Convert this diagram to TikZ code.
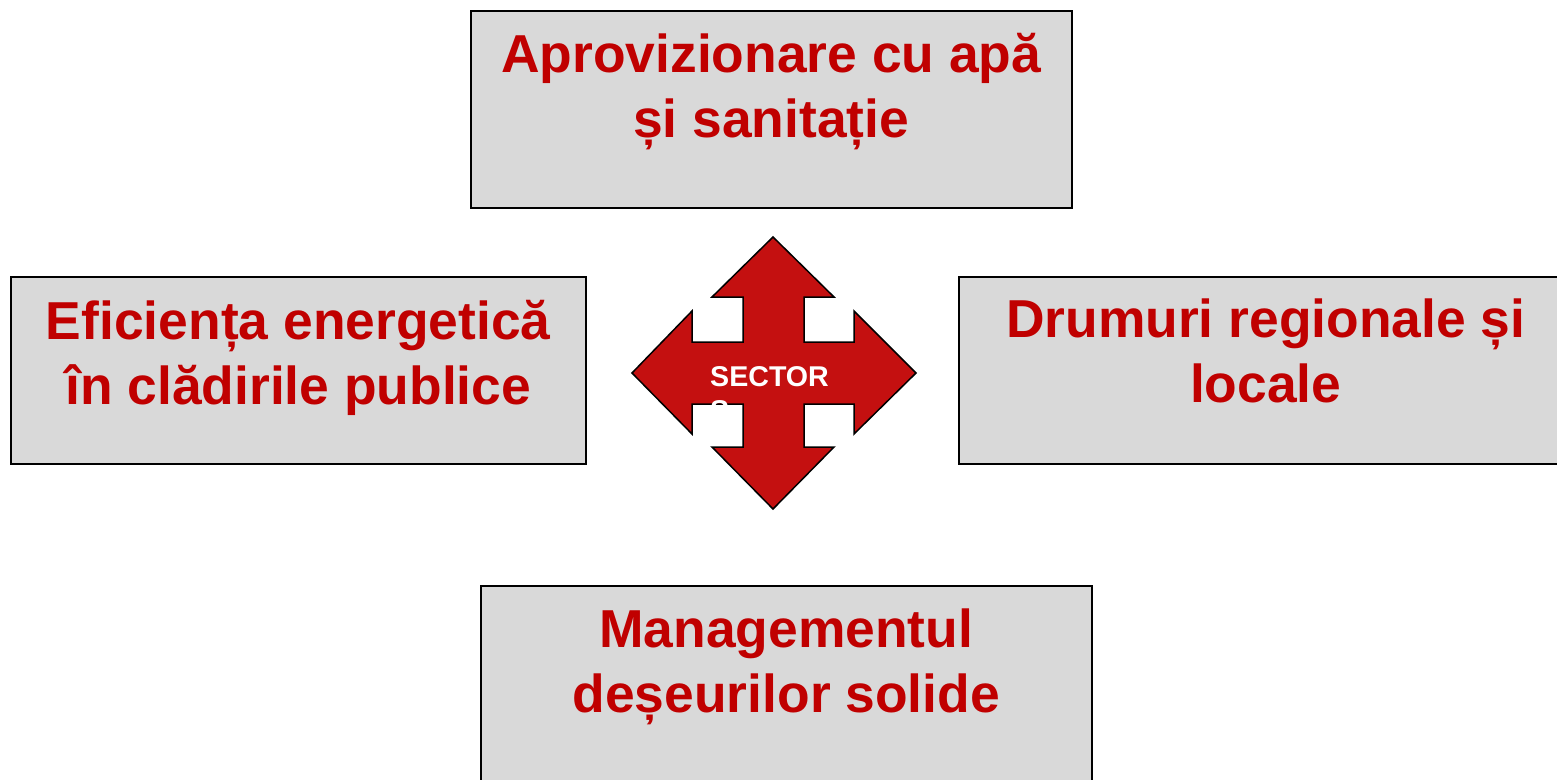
\documentclass[tikz,border=0pt]{standalone}
\usepackage{fontspec}
\setmainfont{Liberation Sans}
\definecolor{txtred}{HTML}{C00000}
\definecolor{arrred}{HTML}{C41010}
\definecolor{boxgray}{HTML}{D9D9D9}
\begin{document}
\begin{tikzpicture}[x=1pt,y=-1pt,
  box/.style={draw=black, line width=1.5pt, fill=boxgray, rectangle, inner sep=0pt, anchor=north west},
  lbl/.style={text=txtred, inner sep=0pt, anchor=base, font=\bfseries\fontsize{53.4}{65}\selectfont},
  sect/.style={text=white, inner sep=0pt, anchor=base west, align=left, font=\bfseries\fontsize{28.6}{34}\selectfont}]
\useasboundingbox (0,0) rectangle (1557,779);
\clip (0,0) rectangle (1557,779);
% boxes
\node[box, minimum width=601pt, minimum height=197pt] (apa) at (470,10) {};
\node[box, minimum width=575pt, minimum height=187pt] (eff) at (10,276) {};
\node[box, minimum width=614pt, minimum height=187pt] (drum) at (958,276) {};
\node[box, minimum width=611pt, minimum height=200pt] (deseu) at (480,585) {};
% labels
\node[lbl] (apaT) at ([yshift=-62pt]apa.north) {\begin{tabular}[t]{@{}c@{}}Aprovizionare cu apă\\și sanitație\end{tabular}};
\node[lbl] (effT) at ([yshift=-63pt]eff.north) {\begin{tabular}[t]{@{}c@{}}Eficiența energetică\\în clădirile publice\end{tabular}};
\node[lbl] (drumT) at ([yshift=-61pt]drum.north) {\begin{tabular}[t]{@{}c@{}}Drumuri regionale și\\locale\end{tabular}};
\node[lbl] (deseuT) at ([yshift=-62pt]deseu.north) {\begin{tabular}[t]{@{}c@{}}Managementul\\deșeurilor solide\end{tabular}};
% central four-way arrow
\draw[line width=1.5pt, fill=arrred, line join=miter]
  (773,237) -- (834,297) -- (804,297) -- (804,342) -- (854,342) -- (854,311)
  -- (916,373) -- (854,434) -- (854,404) -- (804,404) -- (804,447) -- (834,447)
  -- (773,509) -- (712,447) -- (743,447) -- (743,404) -- (692,404) -- (692,434)
  -- (632,373) -- (692,311) -- (692,342) -- (743,342) -- (743,297) -- (712,297) -- cycle;
\coordinate (sectpos) at (710,386);
\node[sect] (sector) at (sectpos) {\begin{tabular}[t]{@{}l@{}}SECTOR\\S\end{tabular}};
\end{tikzpicture}
\end{document}
